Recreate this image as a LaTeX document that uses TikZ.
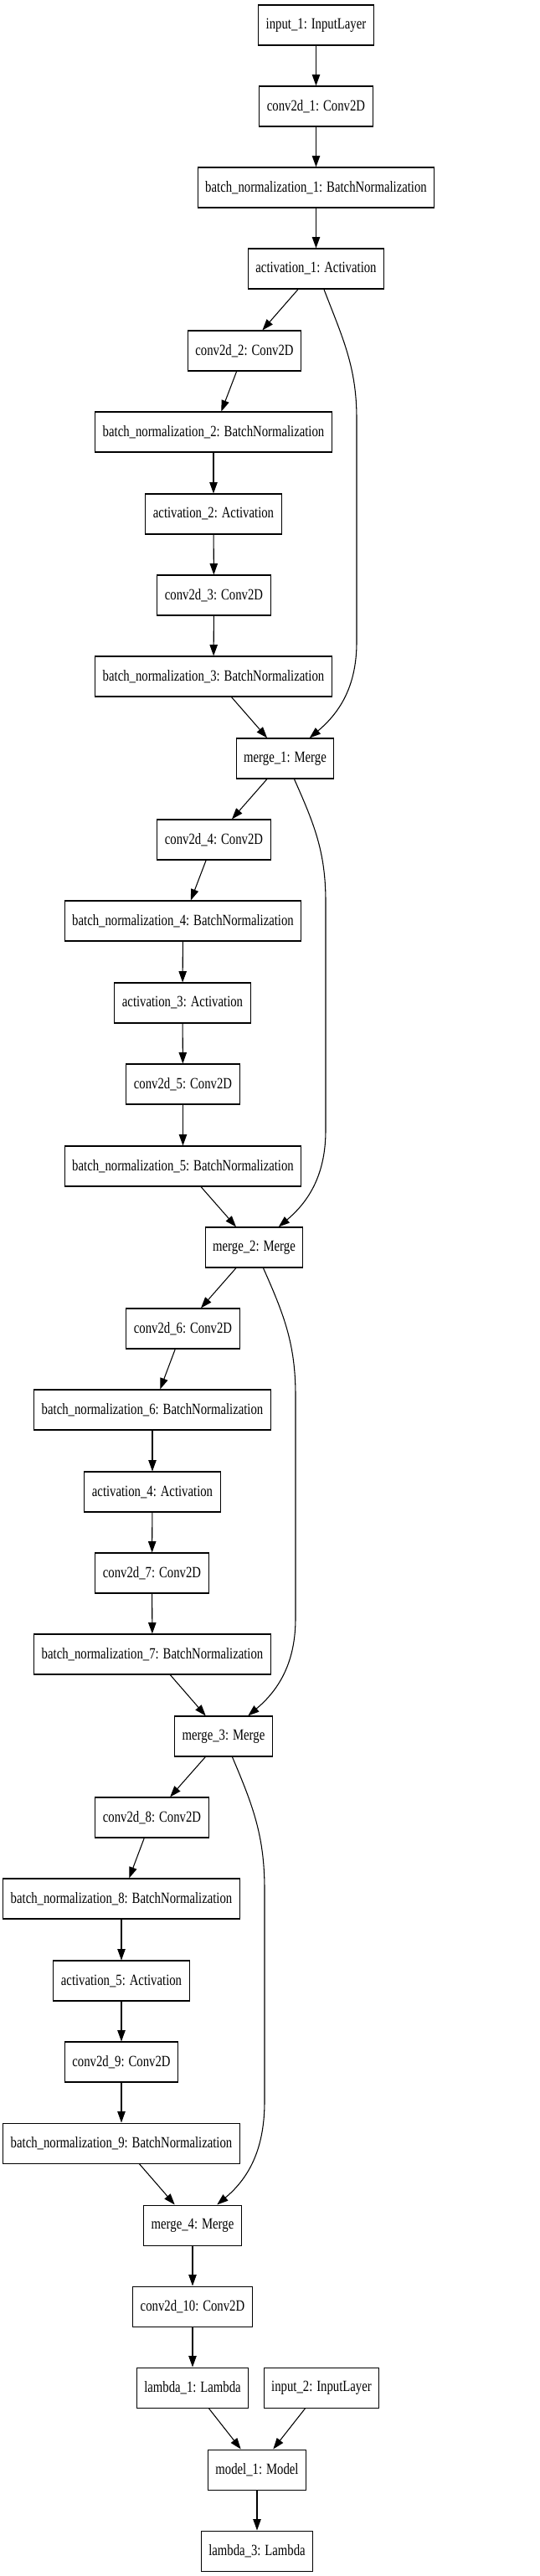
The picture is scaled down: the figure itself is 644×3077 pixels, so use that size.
\documentclass[tikz,border=0pt]{standalone}
\usepackage{fontspec}
\setmainfont{Liberation Serif}[FakeStretch=0.79]
\usepackage{tikz}
\usetikzlibrary{arrows.meta}

\tikzset{
  layer/.style={draw,line width=0.8pt,rectangle,minimum height=36pt,inner xsep=6.8pt,inner ysep=0pt,font=\fontsize{14}{16}\selectfont},
  edge/.style={line width=0.8pt,-{Triangle[length=10pt,width=7pt]}}
}

\begin{document}
\begin{tikzpicture}[x=0.75pt,y=0.75pt]
  \useasboundingbox (0,0) rectangle (644,-3077);
  % main chain
  \node[layer] (in1) at (377.5,-30) {input\_1: InputLayer};
  \node[layer] (c1) at (377.5,-127) {conv2d\_1: Conv2D};
  \node[layer] (bn1) at (377.5,-224) {batch\_normalization\_1: BatchNormalization};
  \node[layer] (act1) at (377.5,-321) {activation\_1: Activation};
  \node[layer] (c2) at (292,-419) {conv2d\_2: Conv2D};
  \node[layer] (bn2) at (255,-516) {batch\_normalization\_2: BatchNormalization};
  \node[layer] (act2) at (255,-614) {activation\_2: Activation};
  \node[layer] (c3) at (255.5,-711) {conv2d\_3: Conv2D};
  \node[layer] (bn3) at (255,-808) {batch\_normalization\_3: BatchNormalization};
  \node[layer] (m1) at (340.5,-906) {merge\_1: Merge};
  \node[layer] (c4) at (255.5,-1003) {conv2d\_4: Conv2D};
  \node[layer] (bn4) at (218.5,-1100) {batch\_normalization\_4: BatchNormalization};
  \node[layer] (act3) at (218,-1198) {activation\_3: Activation};
  \node[layer] (c5) at (218.5,-1295) {conv2d\_5: Conv2D};
  \node[layer] (bn5) at (218.5,-1393) {batch\_normalization\_5: BatchNormalization};
  \node[layer] (m2) at (303.5,-1490) {merge\_2: Merge};
  \node[layer] (c6) at (218.5,-1587) {conv2d\_6: Conv2D};
  \node[layer] (bn6) at (182,-1684) {batch\_normalization\_6: BatchNormalization};
  \node[layer] (act4) at (182,-1782) {activation\_4: Activation};
  \node[layer] (c7) at (181.5,-1879) {conv2d\_7: Conv2D};
  \node[layer] (bn7) at (182,-1976) {batch\_normalization\_7: BatchNormalization};
  \node[layer] (m3) at (267,-2074) {merge\_3: Merge};
  \node[layer] (c8) at (181.5,-2171) {conv2d\_8: Conv2D};
  \node[layer] (bn8) at (145,-2268) {batch\_normalization\_8: BatchNormalization};
  \node[layer] (act5) at (145,-2366) {activation\_5: Activation};
  \node[layer] (c9) at (145,-2463) {conv2d\_9: Conv2D};
  \node[layer] (bn9) at (145,-2560) {batch\_normalization\_9: BatchNormalization};
  \node[layer] (m4) at (230,-2658) {merge\_4: Merge};
  \node[layer] (c10) at (230,-2755) {conv2d\_10: Conv2D};
  \node[layer] (lam1) at (230,-2852) {lambda\_1: Lambda};
  \node[layer] (in2) at (384,-2852) {input\_2: InputLayer};
  \node[layer] (mod1) at (307,-2950) {model\_1: Model};
  \node[layer] (lam3) at (307,-3047) {lambda\_3: Lambda};
  % bends of the skip edges
  \coordinate (s1a) at (426,-500);
  \coordinate (s1b) at (426,-767);
  \coordinate (s2a) at (389,-1077);
  \coordinate (s2b) at (389,-1350);
  \coordinate (s3a) at (353,-1667);
  \coordinate (s3b) at (353,-1933);
  \coordinate (s4a) at (316,-2257);
  \coordinate (s4b) at (316,-2510);
  % edges
  \draw[edge] (in1) -- (c1);
  \draw[edge] (c1) -- (bn1);
  \draw[edge] (bn1) -- (act1);
  \draw[edge] (act1) -- (c2);
  \draw[edge] (c2) -- (bn2);
  \draw[edge] (bn2) -- (act2);
  \draw[edge] (act2) -- (c3);
  \draw[edge] (c3) -- (bn3);
  \draw[edge] (bn3) -- (m1);
  \draw[edge] (act1) to[out=-69,in=90] (s1a) -- (s1b) to[out=-90,in=40] (m1);
  \draw[edge] (m1) -- (c4);
  \draw[edge] (c4) -- (bn4);
  \draw[edge] (bn4) -- (act3);
  \draw[edge] (act3) -- (c5);
  \draw[edge] (c5) -- (bn5);
  \draw[edge] (bn5) -- (m2);
  \draw[edge] (m1) to[out=-66,in=90] (s2a) -- (s2b) to[out=-90,in=40] (m2);
  \draw[edge] (m2) -- (c6);
  \draw[edge] (c6) -- (bn6);
  \draw[edge] (bn6) -- (act4);
  \draw[edge] (act4) -- (c7);
  \draw[edge] (c7) -- (bn7);
  \draw[edge] (bn7) -- (m3);
  \draw[edge] (m2) to[out=-66,in=90] (s3a) -- (s3b) to[out=-90,in=40] (m3);
  \draw[edge] (m3) -- (c8);
  \draw[edge] (c8) -- (bn8);
  \draw[edge] (bn8) -- (act5);
  \draw[edge] (act5) -- (c9);
  \draw[edge] (c9) -- (bn9);
  \draw[edge] (bn9) -- (m4);
  \draw[edge] (m3) to[out=-67,in=90] (s4a) -- (s4b) to[out=-90,in=40] (m4);
  \draw[edge] (m4) -- (c10);
  \draw[edge] (c10) -- (lam1);
  \draw[edge] (lam1) -- (mod1);
  \draw[edge] (in2) -- (mod1);
  \draw[edge] (mod1) -- (lam3);
\end{tikzpicture}
\end{document}
